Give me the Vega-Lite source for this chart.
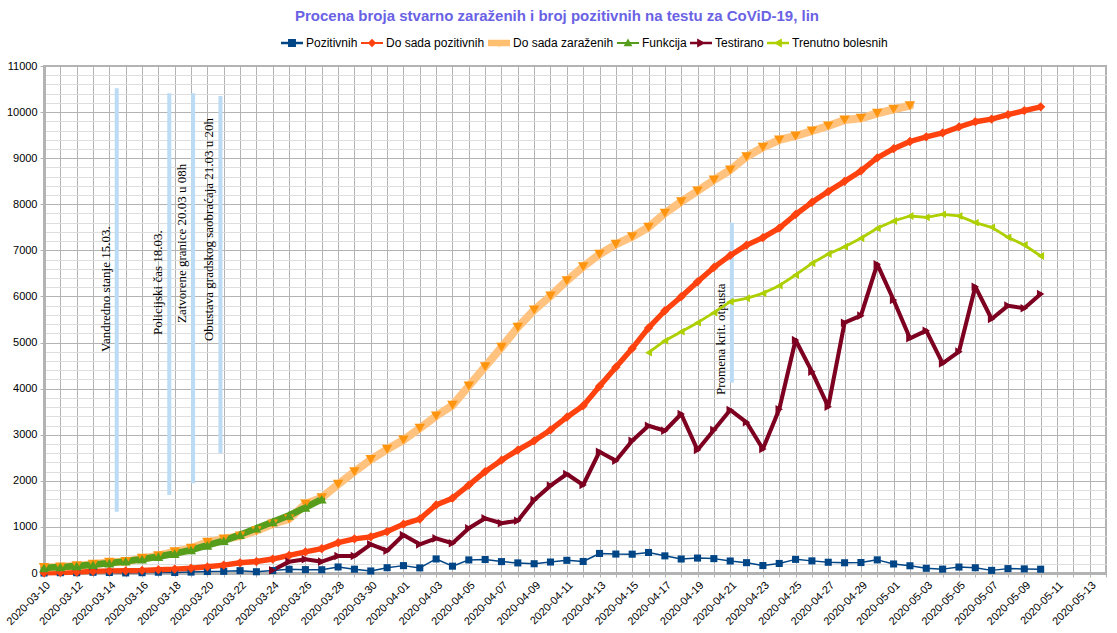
{
  "$schema": "https://vega.github.io/schema/vega-lite/v6.json",
  "width": 1062,
  "height": 507,
  "autosize": {"type": "none"},
  "padding": {"left": 44, "top": 66, "right": 11, "bottom": 60},
  "background": "white",
  "title": {
    "text": "Procena broja stvarno zaraženih i broj pozitivnih na testu  za CoViD-19, lin",
    "font": "Liberation Sans",
    "fontSize": 15,
    "fontWeight": "bold",
    "color": "#6a62e4",
    "anchor": "middle",
    "offset": 8,
    "dx": -18
  },
  "config": {
    "view": {"stroke": "#b3b3b3", "strokeWidth": 2},
    "axis": {"labelFont": "Liberation Sans", "labelFontSize": 11, "labelColor": "#000000"}
  },
  "datasets": {
    "main": [
      {"d":"2020-03-10","poz":0,"ukPoz":5,"ukZar":120,"fun":110},
      {"d":"2020-03-11","poz":7,"ukPoz":12,"ukZar":130,"fun":130},
      {"d":"2020-03-12","poz":7,"ukPoz":19,"ukZar":155,"fun":150},
      {"d":"2020-03-13","poz":16,"ukPoz":35,"ukZar":190,"fun":180},
      {"d":"2020-03-14","poz":11,"ukPoz":46,"ukZar":232,"fun":215},
      {"d":"2020-03-15","poz":2,"ukPoz":48,"ukZar":246,"fun":255},
      {"d":"2020-03-16","poz":7,"ukPoz":55,"ukZar":318,"fun":300},
      {"d":"2020-03-17","poz":17,"ukPoz":72,"ukZar":376,"fun":355},
      {"d":"2020-03-18","poz":11,"ukPoz":83,"ukZar":462,"fun":420},
      {"d":"2020-03-19","poz":20,"ukPoz":103,"ukZar":535,"fun":500},
      {"d":"2020-03-20","poz":32,"ukPoz":135,"ukZar":665,"fun":600},
      {"d":"2020-03-21","poz":36,"ukPoz":171,"ukZar":738,"fun":700},
      {"d":"2020-03-22","poz":51,"ukPoz":222,"ukZar":803,"fun":830},
      {"d":"2020-03-23","poz":27,"ukPoz":249,"ukZar":918,"fun":970},
      {"d":"2020-03-24","poz":54,"ukPoz":303,"ukZar":1063,"fun":1110,"test":60},
      {"d":"2020-03-25","poz":81,"ukPoz":384,"ukZar":1172,"fun":1250,"test":246},
      {"d":"2020-03-26","poz":73,"ukPoz":457,"ukZar":1497,"fun":1420,"test":297},
      {"d":"2020-03-27","poz":71,"ukPoz":528,"ukZar":1634,"fun":1600,"test":246},
      {"d":"2020-03-28","poz":131,"ukPoz":659,"ukZar":1924,"test":369},
      {"d":"2020-03-29","poz":82,"ukPoz":741,"ukZar":2198,"test":369},
      {"d":"2020-03-30","poz":44,"ukPoz":785,"ukZar":2460,"test":622},
      {"d":"2020-03-31","poz":115,"ukPoz":900,"ukZar":2684,"test":484},
      {"d":"2020-04-01","poz":160,"ukPoz":1060,"ukZar":2886,"test":824},
      {"d":"2020-04-02","poz":111,"ukPoz":1171,"ukZar":3139,"test":622},
      {"d":"2020-04-03","poz":305,"ukPoz":1476,"ukZar":3406,"test":752},
      {"d":"2020-04-04","poz":148,"ukPoz":1624,"ukZar":3638,"test":644},
      {"d":"2020-04-05","poz":284,"ukPoz":1908,"ukZar":4057,"test":969},
      {"d":"2020-04-06","poz":292,"ukPoz":2200,"ukZar":4476,"test":1186},
      {"d":"2020-04-07","poz":247,"ukPoz":2447,"ukZar":4896,"test":1078},
      {"d":"2020-04-08","poz":219,"ukPoz":2666,"ukZar":5330,"test":1135},
      {"d":"2020-04-09","poz":201,"ukPoz":2867,"ukZar":5706,"test":1584},
      {"d":"2020-04-10","poz":238,"ukPoz":3105,"ukZar":6010,"test":1895},
      {"d":"2020-04-11","poz":275,"ukPoz":3380,"ukZar":6342,"test":2148},
      {"d":"2020-04-12","poz":250,"ukPoz":3630,"ukZar":6646,"test":1909},
      {"d":"2020-04-13","poz":424,"ukPoz":4054,"ukZar":6914,"test":2632},
      {"d":"2020-04-14","poz":411,"ukPoz":4465,"ukZar":7131,"test":2437},
      {"d":"2020-04-15","poz":408,"ukPoz":4873,"ukZar":7297,"test":2870},
      {"d":"2020-04-16","poz":445,"ukPoz":5318,"ukZar":7500,"test":3196,"bol":4780},
      {"d":"2020-04-17","poz":372,"ukPoz":5690,"ukZar":7804,"test":3087,"bol":5040},
      {"d":"2020-04-18","poz":304,"ukPoz":5994,"ukZar":8056,"test":3450,"bol":5236},
      {"d":"2020-04-19","poz":324,"ukPoz":6318,"ukZar":8288,"test":2669,"bol":5431},
      {"d":"2020-04-20","poz":312,"ukPoz":6630,"ukZar":8527,"test":3103,"bol":5648},
      {"d":"2020-04-21","poz":260,"ukPoz":6890,"ukZar":8744,"test":3537,"bol":5887},
      {"d":"2020-04-22","poz":224,"ukPoz":7114,"ukZar":9032,"test":3270,"bol":5960},
      {"d":"2020-04-23","poz":162,"ukPoz":7276,"ukZar":9236,"test":2690,"bol":6068},
      {"d":"2020-04-24","poz":207,"ukPoz":7483,"ukZar":9395,"test":3551,"bol":6234},
      {"d":"2020-04-25","poz":296,"ukPoz":7779,"ukZar":9482,"test":5055,"bol":6466},
      {"d":"2020-04-26","poz":263,"ukPoz":8042,"ukZar":9590,"test":4368,"bol":6720},
      {"d":"2020-04-27","poz":233,"ukPoz":8275,"ukZar":9698,"test":3608,"bol":6921},
      {"d":"2020-04-28","poz":222,"ukPoz":8497,"ukZar":9829,"test":5431,"bol":7080},
      {"d":"2020-04-29","poz":227,"ukPoz":8724,"ukZar":9865,"test":5583,"bol":7262},
      {"d":"2020-04-30","poz":285,"ukPoz":9009,"ukZar":9973,"test":6700,"bol":7479},
      {"d":"2020-05-01","poz":196,"ukPoz":9205,"ukZar":10060,"test":5923,"bol":7637},
      {"d":"2020-05-02","poz":157,"ukPoz":9362,"ukZar":10139,"test":5092,"bol":7746},
      {"d":"2020-05-03","poz":102,"ukPoz":9464,"test":5257,"bol":7717},
      {"d":"2020-05-04","poz":84,"ukPoz":9548,"test":4549,"bol":7782},
      {"d":"2020-05-05","poz":129,"ukPoz":9677,"test":4802,"bol":7746},
      {"d":"2020-05-06","poz":114,"ukPoz":9791,"test":6212,"bol":7601},
      {"d":"2020-05-07","poz":57,"ukPoz":9848,"test":5511,"bol":7500},
      {"d":"2020-05-08","poz":95,"ukPoz":9943,"test":5800,"bol":7283},
      {"d":"2020-05-09","poz":89,"ukPoz":10032,"test":5743,"bol":7116},
      {"d":"2020-05-10","poz":82,"ukPoz":10114,"test":6053,"bol":6878}
    ],
    "notes": [
      {"t":"2020-03-14T10:48:00Z","top":10516,"bot":1330,"ty":4795,"label":"Vandredno stanje 15.03."},
      {"t":"2020-03-17T16:00:00Z","top":10408,"bot":1692,"ty":5164,"label":"Policijski čas 18.03."},
      {"t":"2020-03-19T03:00:00Z","top":10408,"bot":1946,"ty":5424,"label":"Zatvorene granice 20.03 u 08h"},
      {"t":"2020-03-20T19:12:00Z","top":10350,"bot":2597,"ty":5033,"label":"Obustava gradskog saobraćaja 21.03 u 20h"},
      {"t":"2020-04-21T02:24:00Z","top":7600,"bot":4129,"ty":3862,"label":"Promena krit. otpusta"}
    ]
  },
  "layer": [
    {
      "layer": [
        {
          "data": {"name": "notes"},
          "mark": {"type": "rule", "color": "#bcdcf5", "strokeWidth": 4},
          "encoding": {
            "x": {
              "field": "t", "type": "temporal", "title": null,
              "scale": {"type": "utc", "domain": ["2020-03-10T00:00:00Z", "2020-05-14T00:00:00Z"]},
              "axis": {
                "title": null,
                "tickCount": {"interval": "day", "step": 1},
                "grid": true, "gridColor": "#b3b3b3", "gridWidth": 1,
                "domainColor": "#b3b3b3", "domainWidth": 3,
                "ticks": true, "tickColor": "#b3b3b3", "tickSize": 4,
                "labelAngle": -45, "labelAlign": "right", "labelBaseline": "top",
                "labelOverlap": false, "labelPadding": 2, "labelBound": false, "labelFlush": false,
                "labelExpr": "floor(datum.value / 86400000) % 2 == 1 ? utcFormat(datum.value, '%Y-%m-%d') : ''"
              }
            },
            "y": {
              "field": "top", "type": "quantitative", "title": null,
              "scale": {"domain": [0, 11000], "nice": false},
              "axis": {
                "title": null,
                "values": [0,1000,2000,3000,4000,5000,6000,7000,8000,9000,10000,11000],
                "format": "d",
                "grid": true, "gridColor": "#b3b3b3", "gridWidth": 1,
                "domainColor": "#b3b3b3", "domainWidth": 3,
                "ticks": true, "tickSize": 4, "tickColor": "#b3b3b3",
                "labelPadding": 3, "labelOverlap": false
              }
            },
            "y2": {"field": "bot"}
          }
        },
        {
          "data": {"name": "notes"},
          "mark": {"type": "text", "angle": 270, "align": "left", "baseline": "middle", "dy": -11, "font": "Liberation Serif", "fontSize": 13, "color": "#000000"},
          "encoding": {
            "x": {"field": "t", "type": "temporal", "title": null},
            "y": {"field": "ty", "type": "quantitative", "title": null},
            "text": {"field": "label"}
          }
        },
        {
          "data": {"name": "main"},
          "transform": [
            {"fold": ["poz", "ukPoz", "ukZar", "fun", "test", "bol"], "as": ["s", "v"]},
            {"filter": "datum.v != null"}
          ],
          "mark": {"type": "line", "strokeJoin": "round", "strokeCap": "round"},
          "encoding": {
            "x": {"field": "d", "type": "temporal", "title": null},
            "y": {"field": "v", "type": "quantitative", "title": null},
            "color": {
              "field": "s", "type": "nominal", "legend": null,
              "scale": {"domain": ["ukZar", "fun", "ukPoz", "test", "bol", "poz"], "range": ["#ffc27f", "#579d1c", "#ff420e", "#7e0021", "#aecf00", "#004586"]}
            },
            "strokeWidth": {
              "field": "s", "type": "nominal", "legend": null,
              "scale": {"domain": ["ukZar", "fun", "ukPoz", "test", "bol", "poz"], "range": [8, 1.5, 2, 2.5, 2.5, 3]}
            },
            "order": {"field": "d", "type": "temporal"}
          }
        },
        {
          "data": {"name": "main"},
          "transform": [
            {"fold": ["poz", "ukPoz", "ukZar", "fun", "test", "bol"], "as": ["s", "v"]},
            {"filter": "datum.v != null"}
          ],
          "mark": {"type": "point", "filled": true, "opacity": 1, "strokeWidth": 0},
          "encoding": {
            "x": {"field": "d", "type": "temporal", "title": null},
            "y": {"field": "v", "type": "quantitative", "title": null},
            "fill": {
              "field": "s", "type": "nominal", "legend": null,
              "scale": {"domain": ["ukZar", "fun", "ukPoz", "test", "bol", "poz"], "range": ["#ff950e", "#579d1c", "#ff420e", "#7e0021", "#aecf00", "#004586"]}
            },
            "shape": {
              "field": "s", "type": "nominal", "legend": null,
              "scale": {"domain": ["ukZar", "fun", "ukPoz", "test", "bol", "poz"], "range": ["triangle-down", "triangle-up", "diamond", "triangle-right", "triangle-left", "square"]}
            },
            "size": {
              "field": "s", "type": "nominal", "legend": null,
              "scale": {"domain": ["ukZar", "fun", "ukPoz", "test", "bol", "poz"], "range": [110, 50, 70, 100, 100, 75]}
            }
          }
        }
      ]
    },
    {
      "data": {"name": "main"},
      "transform": [
        {"fold": ["poz", "ukPoz", "ukZar", "fun", "test", "bol"], "as": ["s", "v"]},
        {"filter": "false"}
      ],
      "mark": {"type": "point", "filled": true, "opacity": 1, "strokeWidth": 0},
      "encoding": {
        "x": {"field": "d", "type": "temporal", "title": null},
        "y": {
          "field": "v", "type": "quantitative", "title": null,
          "scale": {"domain": [0, 11000], "nice": false},
          "axis": {
            "orient": "right", "title": null,
            "values": [200,400,600,800,1200,1400,1600,1800,2200,2400,2600,2800,3200,3400,3600,3800,4200,4400,4600,4800,5200,5400,5600,5800,6200,6400,6600,6800,7200,7400,7600,7800,8200,8400,8600,8800,9200,9400,9600,9800,10200,10400,10600,10800],
            "grid": true, "gridColor": "#dedede", "gridWidth": 1,
            "labels": false, "ticks": false, "domain": false
          }
        },
        "color": {
          "field": "s", "type": "nominal",
          "scale": {"domain": ["poz", "ukPoz", "ukZar", "fun", "test", "bol"], "range": ["#004586", "#ff420e", "#ffbf70", "#579d1c", "#7e0021", "#aecf00"]},
          "legend": {
            "orient": "none", "legendX": 237, "legendY": -34, "direction": "horizontal", "columns": 6,
            "title": null, "padding": 0, "symbolSize": 484, "symbolStrokeWidth": 0,
            "labelFont": "Liberation Sans", "labelFontSize": 12, "labelColor": "#000000", "labelOffset": 3, "columnPadding": 3,
            "labelExpr": "datum.label == 'poz' ? 'Pozitivnih' : datum.label == 'ukPoz' ? 'Do sada pozitivnih' : datum.label == 'ukZar' ? 'Do sada zaraženih' : datum.label == 'fun' ? 'Funkcija' : datum.label == 'test' ? 'Testirano' : 'Trenutno bolesnih'"
          }
        },
        "shape": {
          "field": "s", "type": "nominal",
          "scale": {
            "domain": ["poz", "ukPoz", "ukZar", "fun", "test", "bol"],
            "range": [
              "M-1,-0.12H1V0.12H-1Z M-0.36,-0.36H0.36V0.36H-0.36Z",
              "M-1,-0.1H1V0.1H-1Z M0,-0.38L0.38,0L0,0.38L-0.38,0Z",
              "M-1,-0.3H1V0.3H-1Z M-0.4,-0.3L0.4,-0.3L0,0.4Z",
              "M-1,-0.1H1V0.1H-1Z M0,-0.4L0.4,0.3L-0.4,0.3Z",
              "M-1,-0.12H1V0.12H-1Z M-0.35,-0.4L0.4,0L-0.35,0.4Z",
              "M-1,-0.12H1V0.12H-1Z M0.35,-0.4L0.35,0.4L-0.4,0Z"
            ]
          },
          "legend": {
            "orient": "none", "legendX": 237, "legendY": -34, "direction": "horizontal", "columns": 6,
            "title": null, "padding": 0, "symbolSize": 484, "symbolStrokeWidth": 0,
            "labelFont": "Liberation Sans", "labelFontSize": 12, "labelColor": "#000000", "labelOffset": 3, "columnPadding": 3,
            "labelExpr": "datum.label == 'poz' ? 'Pozitivnih' : datum.label == 'ukPoz' ? 'Do sada pozitivnih' : datum.label == 'ukZar' ? 'Do sada zaraženih' : datum.label == 'fun' ? 'Funkcija' : datum.label == 'test' ? 'Testirano' : 'Trenutno bolesnih'"
          }
        }
      }
    }
  ],
  "resolve": {
    "scale": {"y": "independent", "color": "independent", "shape": "independent"},
    "legend": {"color": "independent", "shape": "independent"}
  }
}
